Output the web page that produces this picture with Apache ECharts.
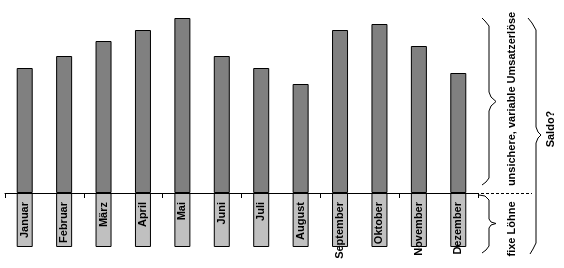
<!DOCTYPE html>
<html>
<head>
<meta charset="utf-8">
<script src="https://cdn.jsdelivr.net/npm/echarts@6/dist/echarts.min.js"></script>
<style>
html,body{margin:0;padding:0;background:#fff;}
#c{width:564px;height:268px;}
</style>
</head>
<body>
<div id="c"></div>
<script>
const months = ['Januar','Februar','März','April','Mai','Juni','Juli','August','September','Oktober','November','Dezember'];
const umsatz = [125, 137, 152, 163, 175, 137, 125, 109, 163, 169, 147, 120];
const loehne = [-54, -54, -54, -54, -54, -54, -54, -54, -54, -54, -54, -54];
const annotations = ['unsichere, variable Umsatzerlöse', 'fixe Löhne', 'Saldo?'];

const chart = echarts.init(document.getElementById('c'), null, {renderer: 'canvas'});
const font = 'Liberation Sans, Arial, sans-serif';
const txt = (t, x, y) => ({
  type: 'text', x: x, y: y, rotation: Math.PI / 2, z: 20,
  style: {text: t, fill: '#000', font: 'bold 11px ' + font, textAlign: 'center', textVerticalAlign: 'middle'}
});
const brace = pts => ({
  type: 'polyline', z: 20,
  shape: {points: pts},
  style: {stroke: '#000', lineWidth: 1, fill: null}
});
chart.setOption({
  backgroundColor: '#fff',
  animation: false,
  grid: {left: 5, right: 86, top: 13, bottom: 15, containLabel: false, outerBoundsMode: 'none'},
  xAxis: {
    type: 'category', data: months, z: 10,
    axisLine: {onZero: true, lineStyle: {color: '#000', width: 1}},
    axisTick: {show: true, length: 5, lineStyle: {color: '#000'}},
    axisLabel: {show: false}
  },
  yAxis: {type: 'value', min: -60, max: 180, show: false, splitLine: {show: false}},
  series: [
    {type: 'bar', data: umsatz, barWidth: 16, barGap: '-100%',
     itemStyle: {color: '#808080', borderColor: '#000', borderWidth: 1}},
    {type: 'bar', data: loehne, barWidth: 16,
     itemStyle: {color: '#c0c0c0', borderColor: '#000', borderWidth: 1},
     label: {show: true, formatter: p => months[p.dataIndex], position: ['50%', 9],
             rotate: 90, align: 'right', verticalAlign: 'middle',
             color: '#000', fontWeight: 'bold', fontSize: 11, fontFamily: font}}
  ],
  graphic: [
    brace([[482,18],[485,21],[489,26],[489,92],[491,97],[496,101.5],[491,106],[489,111],[489,178],[486,182],[482,185]]),
    brace([[479,195],[485,196],[489,200],[489,219],[491,222],[496,223.5],[491,225],[489,228],[489,246],[486,250],[482,253]]),
    brace([[528,18],[532,23],[536,30],[536,127],[538,132],[541,135],[538,138],[536,143],[536,243],[533,249],[530,254]]),
    {type: 'line', z: 20, shape: {x1: 481, y1: 193.5, x2: 532, y2: 193.5},
     style: {stroke: '#000', lineWidth: 1, lineDash: [3, 2]}},
    txt(annotations[0], 512, 99),
    txt(annotations[1], 512, 229),
    txt(annotations[2], 551, 129)
  ]
});
</script>
</body>
</html>
